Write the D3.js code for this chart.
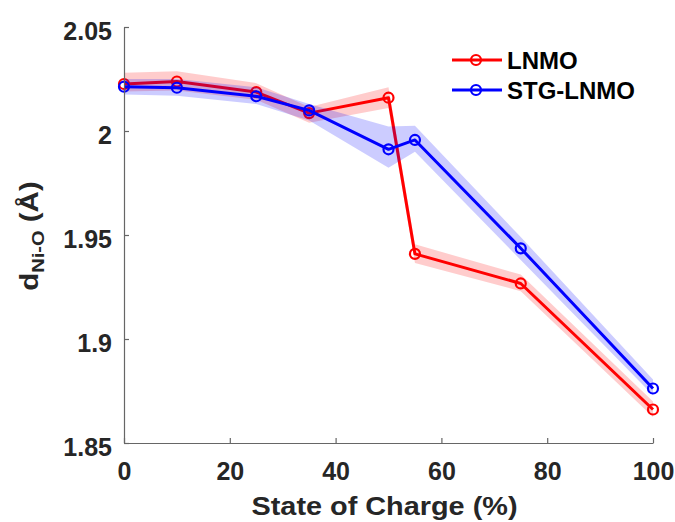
<!DOCTYPE html>
<html>
<head>
<meta charset="utf-8">
<script src="https://cdn.jsdelivr.net/npm/d3@7"></script>
<style>
  html, body { margin: 0; padding: 0; background: #fff; }
  svg { display: block; font-family: "Liberation Sans", Arial, Helvetica, sans-serif; }
</style>
</head>
<body>
<svg id="chart" width="675" height="522"></svg>
<script>
// ---- data ----
const soc = [0, 10, 25, 35, 50, 55, 75, 100];
const lnmo      = [2.0226, 2.0238, 2.0187, 2.0086, 2.0160, 1.9409, 1.9267, 1.8661];
const lnmoUpper = [2.0280, 2.0287, 2.0230, 2.0115, 2.0210, 1.9455, 1.9310, 1.8700];
const lnmoLower = [2.0190, 2.0195, 2.0150, 2.0040, 2.0110, 1.9365, 1.9230, 1.8625];
const stg       = [2.0213, 2.0208, 2.0167, 2.0099, 1.9912, 1.9957, 1.9436, 1.8762];
const stgUpper  = [2.0250, 2.0250, 2.0210, 2.0130, 2.0022, 2.0025, 1.9490, 1.8805];
const stgLower  = [2.0175, 2.0170, 2.0130, 2.0050, 1.9823, 1.9900, 1.9380, 1.8730];
const xTicks = [0, 20, 40, 60, 80, 100];
const yTicks = [1.85, 1.9, 1.95, 2, 2.05];
const seriesNames = ["LNMO", "STG-LNMO"];
const seriesColors = ["#ff0000", "#0000ff"];
const bandColors = ["rgba(255,0,0,0.2)", "rgba(0,0,255,0.2)"];

// ---- layout ----
const svg = d3.select("#chart");
const x = d3.scaleLinear().domain([0, 100]).range([124, 653]);
const y = d3.scaleLinear().domain([1.85, 2.05]).range([443, 27]);
const textColor = "#262626";
const axisColor = "#666666";

// ---- series ----
const series = [
  { vals: lnmo, up: lnmoUpper, lo: lnmoLower },
  { vals: stg, up: stgUpper, lo: stgLower }
];
const area = d3.area().x(d => x(d[0])).y0(d => y(d[1])).y1(d => y(d[2]));
const line = d3.line().x(d => x(d[0])).y(d => y(d[1]));

series.forEach((s, i) => {
  const g = svg.append("g");
  g.append("path")
    .attr("d", area(soc.map((v, j) => [v, s.lo[j], s.up[j]])))
    .attr("fill", bandColors[i])
    .attr("stroke", "none");
  g.append("path")
    .attr("d", line(soc.map((v, j) => [v, s.vals[j]])))
    .attr("fill", "none")
    .attr("stroke", seriesColors[i])
    .attr("stroke-width", 3)
    .attr("stroke-linejoin", "round");
  g.selectAll("circle").data(soc.map((v, j) => [v, s.vals[j]])).join("circle")
    .attr("cx", d => x(d[0]))
    .attr("cy", d => y(d[1]))
    .attr("r", 5)
    .attr("fill", "none")
    .attr("stroke", seriesColors[i])
    .attr("stroke-width", 2.2);
});

// ---- axes ----
const xAxis = d3.axisBottom(x).tickValues(xTicks).tickSizeInner(-5).tickSizeOuter(0).tickPadding(19);
const yAxis = d3.axisLeft(y).tickValues(yTicks).tickSizeInner(-5).tickSizeOuter(0).tickPadding(12)
  .tickFormat(d => d3.format("")(+d.toFixed(2)));

const gx = svg.append("g").attr("transform", "translate(0,443)").call(xAxis);
const gy = svg.append("g").attr("transform", "translate(124,0)").call(yAxis);
[gx, gy].forEach(g => {
  g.select(".domain").attr("stroke", axisColor).attr("stroke-width", 1.2);
  g.selectAll(".tick line").attr("stroke", axisColor).attr("stroke-width", 1.2);
  g.selectAll(".tick text")
    .attr("fill", textColor)
    .style("font-size", "25px")
    .style("font-weight", "bold")
    .style("font-family", "'Liberation Sans', Arial, sans-serif");
});
gx.selectAll(".tick text").attr("dy", "0.71em");
gy.selectAll(".tick text").attr("dy", "0.48em");

// ---- axis labels ----
svg.append("text")
  .attr("x", 384.5).attr("y", 515)
  .attr("text-anchor", "middle")
  .attr("fill", textColor)
  .attr("textLength", 266)
  .attr("lengthAdjust", "spacingAndGlyphs")
  .style("font-size", "25px")
  .style("font-weight", "bold")
  .text("State of Charge (%)");

const yl = svg.append("text")
  .attr("transform", "translate(38,236) rotate(-90) scale(1.18,1)")
  .attr("text-anchor", "middle")
  .attr("fill", textColor)
  .style("font-size", "25px")
  .style("font-weight", "bold");
yl.append("tspan").text("d");
yl.append("tspan").attr("dy", 6).style("font-size", "17px").text("Ni-O");
yl.append("tspan").attr("dy", -6).text(" (Å)");

// ---- legend ----
const leg = svg.append("g");
seriesNames.forEach((name, i) => {
  const ly = 60 + i * 30;
  leg.append("line")
    .attr("x1", 452).attr("x2", 502).attr("y1", ly).attr("y2", ly)
    .attr("stroke", seriesColors[i]).attr("stroke-width", 3);
  leg.append("circle")
    .attr("cx", 476).attr("cy", ly).attr("r", 5)
    .attr("fill", "none").attr("stroke", seriesColors[i]).attr("stroke-width", 2.2);
  leg.append("text")
    .attr("x", 507).attr("y", ly + 8.5)
    .attr("fill", "#000")
    .style("font-size", "24px")
    .style("font-weight", "bold")
    .text(name);
});
</script>
</body>
</html>
